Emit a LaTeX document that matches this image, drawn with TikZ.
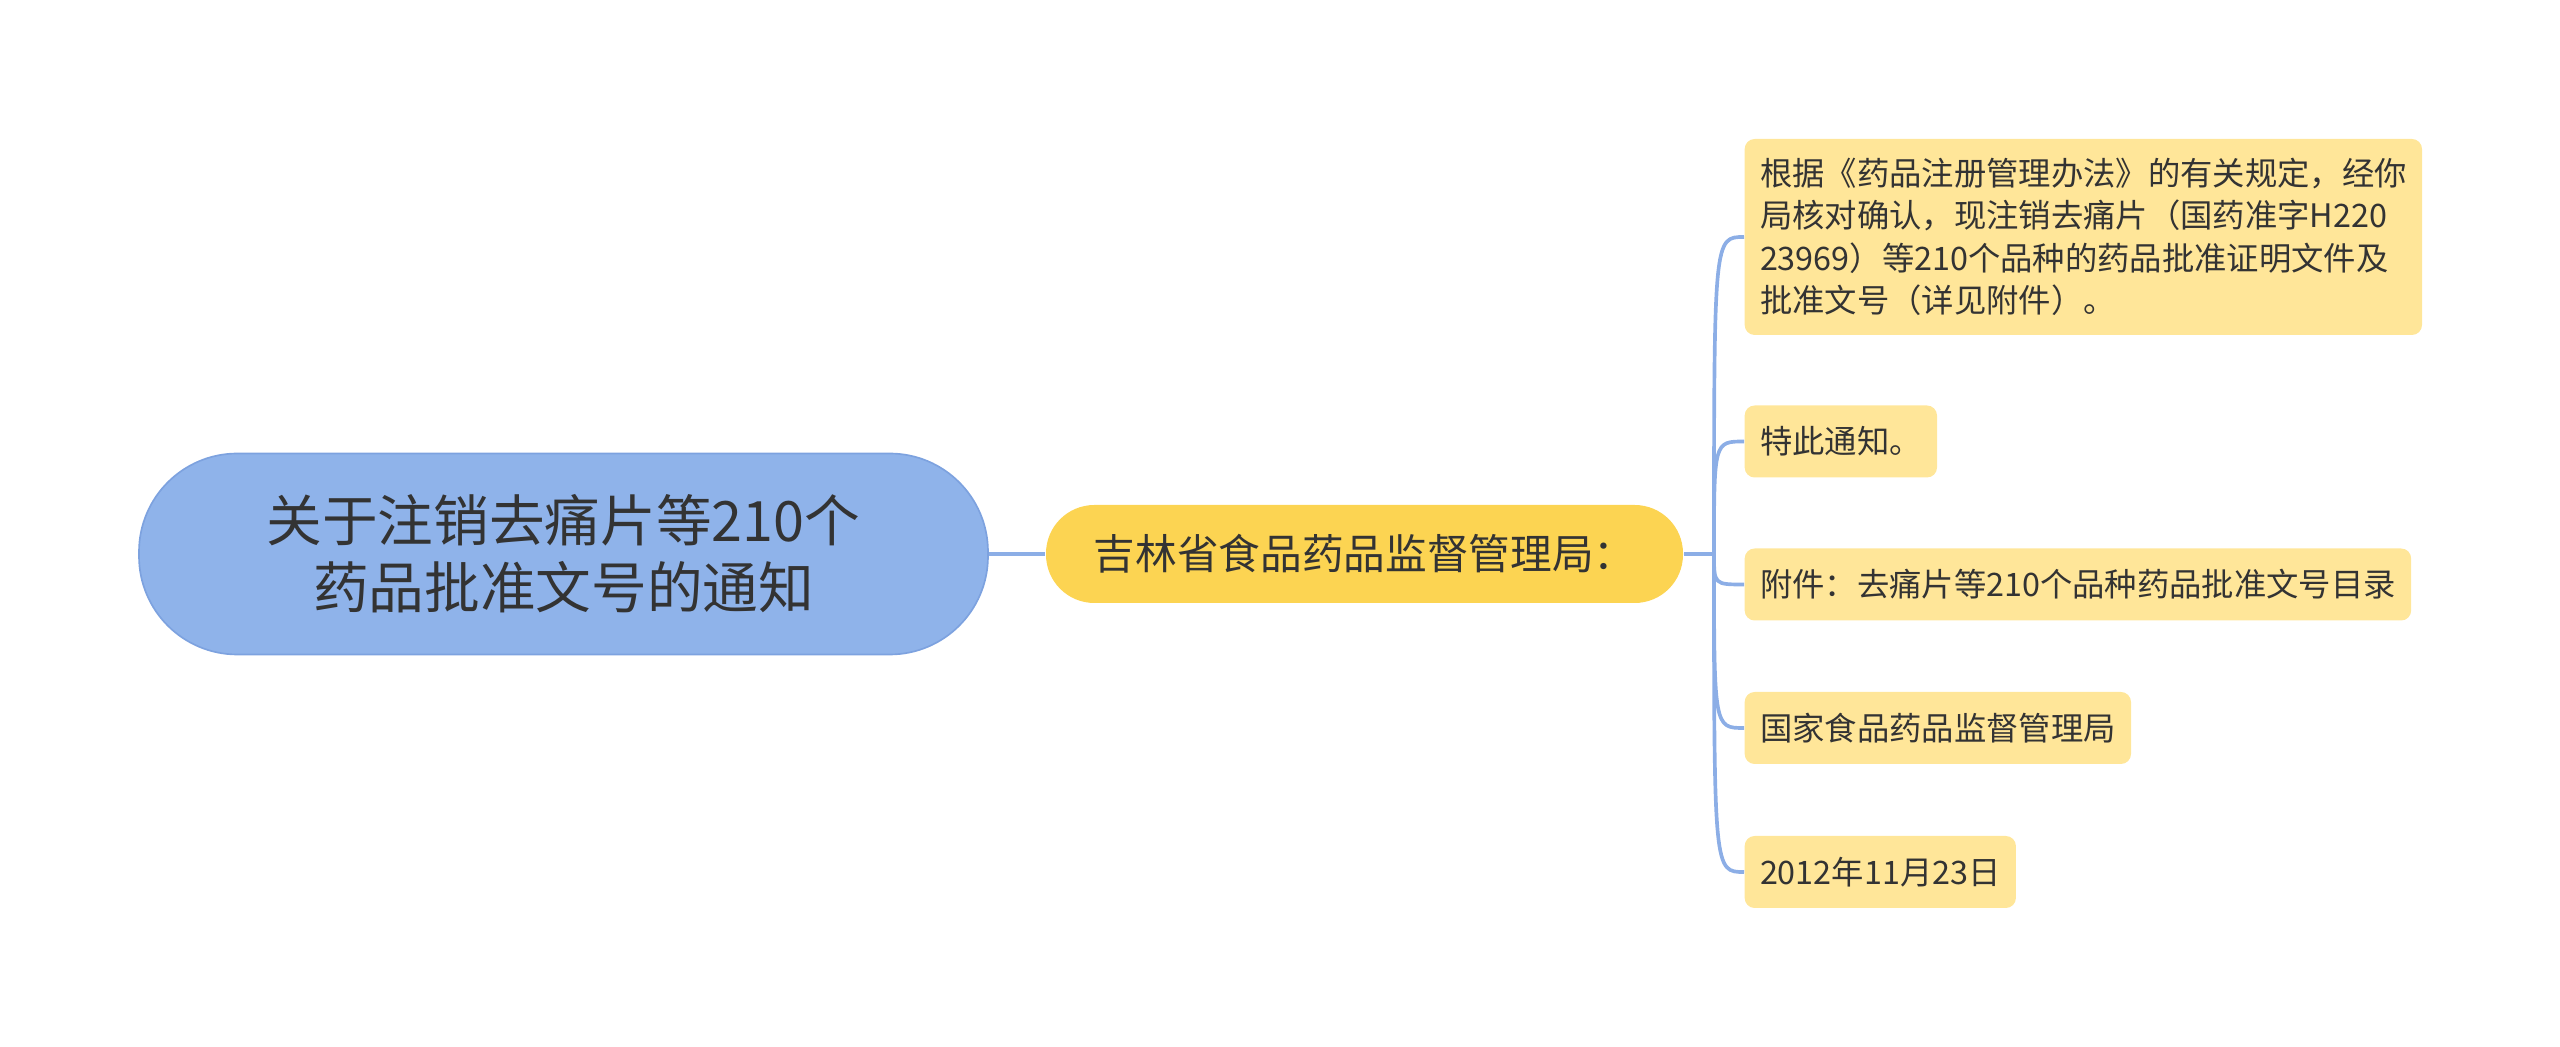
\documentclass[tikz,border=0pt]{standalone}
\usepackage{fontspec}
\setmainfont{Noto Sans CJK SC}
\definecolor{rootfill}{HTML}{8FB3EA}
\definecolor{rootline}{HTML}{7DA2DF}
\definecolor{hubfill}{HTML}{FCD452}
\definecolor{leaffill}{HTML}{FFE699}
\definecolor{linkc}{HTML}{8CAEE6}
\definecolor{ink}{HTML}{333333}
\usetikzlibrary{calc}
\tikzset{
  rootbox/.style={draw=rootline,line width=0.5pt,fill=rootfill,rounded corners=29.5pt,inner sep=0pt,minimum width=254.7pt,minimum height=60.3pt,align=center,text=ink,font=\fontsize{16.7}{20}\selectfont},
  hubbox/.style={fill=hubfill,rounded corners=14.5pt,inner sep=0pt,minimum width=191.1pt,minimum height=29.4pt,align=center,text=ink,font=\fontsize{12.5}{15}\selectfont},
  leaf/.style={fill=leaffill,rounded corners=3pt,inner xsep=4.6pt,inner ysep=0pt,minimum height=21.6pt,anchor=west,align=left,text=ink,font=\fontsize{9.7}{12.7}\selectfont},
  link/.style={draw=linkc,line width=1.1pt},
}
\begin{document}
\begin{tikzpicture}[x=0.3pt,y=0.3pt]
\useasboundingbox (0,0) rectangle (2560,1047);
% root and hub
\node[rootbox] (root) at (563.5,493) {关于注销去痛片等210个\\药品批准文号的通知};
\node[hubbox] (hub) at (1364.5,493) {吉林省食品药品监督管理局：};
% leaves
\node[leaf,minimum height=58.8pt] (l1) at (1744,810) {根据《药品注册管理办法》的有关规定，经你\\局核对确认，现注销去痛片（国药准字H220\\23969）等210个品种的药品批准证明文件及\\批准文号（详见附件）。};
\node[leaf] (l2) at (1744,605.5) {特此通知。};
\node[leaf] (l3) at (1744,462.5) {附件：去痛片等210个品种药品批准文号目录};
\node[leaf] (l4) at (1744,319) {国家食品药品监督管理局};
\node[leaf] (l5) at (1744,175) {2012年11月23日};
% connectors
\coordinate (fork) at (1714,493);
\draw[link] (root.east) -- (hub.west);
\draw[link] (hub.east) -- (fork);
\foreach \n in {l1,l2,l3,l4,l5}
  \draw[link] (fork) .. controls (fork |- \n.west) .. (\n.west);
\end{tikzpicture}
\end{document}
